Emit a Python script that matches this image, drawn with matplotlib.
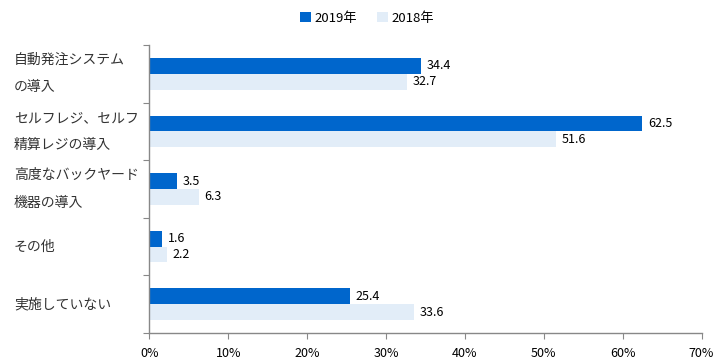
import matplotlib
matplotlib.use('Agg')
import matplotlib.pyplot as plt
import numpy as np

plt.rcParams['font.family'] = ['Noto Sans CJK JP', 'DejaVu Sans']

categories = [
    '自動発注システム\nの導入',
    'セルフレジ、セルフ\n精算レジの導入',
    '高度なバックヤード\n機器の導入',
    'その他',
    '実施していない',
]
values_2019 = [34.4, 62.5, 3.5, 1.6, 25.4]
values_2018 = [32.7, 51.6, 6.3, 2.2, 33.6]
series_labels = ['2019年', '2018年']
xticks = [0, 10, 20, 30, 40, 50, 60, 70]

C2019 = '#0066CC'
C2018 = '#E2EDF8'

fig = plt.figure(figsize=(7.2, 3.61), dpi=100)
ax = fig.add_axes([149.3 / 720, 1 - 333 / 361, (701.5 - 149.3) / 720, (333 - 45) / 361])

y = np.arange(len(categories))
h = 0.276
b1 = ax.barh(y - h / 2, values_2019, height=h, color=C2019, label=series_labels[0])
b2 = ax.barh(y + h / 2, values_2018, height=h, color=C2018, label=series_labels[1])

for bars, vals in ((b1, values_2019), (b2, values_2018)):
    for bar, v in zip(bars, vals):
        ax.annotate(f'{v:.1f}', (v, bar.get_y() + bar.get_height() / 2),
                    xytext=(4, 0), textcoords='offset points',
                    va='center', ha='left', fontsize=9, color='#000000')

ax.set_xlim(0, 70)
ax.set_ylim(len(categories) - 0.5, -0.5)
ax.set_xticks(xticks)
ax.set_xticklabels([f'{t}%' for t in xticks], fontsize=9)

# category boundaries as tick marks, labels drawn separately
ax.set_yticks(np.arange(len(categories) + 1) - 0.5)
ax.set_yticklabels([])
ax.tick_params(axis='y', length=4, color='#888888', direction='out')
ax.tick_params(axis='x', length=4, color='#888888', direction='out', pad=6)

for s in ('top', 'right'):
    ax.spines[s].set_visible(False)
for s in ('left', 'bottom'):
    ax.spines[s].set_color('#888888')
    ax.spines[s].set_linewidth(1.0)

for i, cat in enumerate(categories):
    fy = ax.transData.transform((0, i))[1]
    fy = fig.transFigure.inverted().transform((0, fy))[1]
    fig.text(14 / 720, fy, cat, ha='left', va='center', fontsize=10,
             color='#333333', linespacing=2.2)

fig.legend(handles=[b1, b2], labels=series_labels, loc='upper center',
           bbox_to_anchor=(0.51, 1.0), ncol=2, frameon=False, fontsize=9.5,
           handlelength=0.8, handleheight=0.8, handletextpad=0.3, columnspacing=1.5)

plt.savefig('out.png', dpi=100)
plt.close()
